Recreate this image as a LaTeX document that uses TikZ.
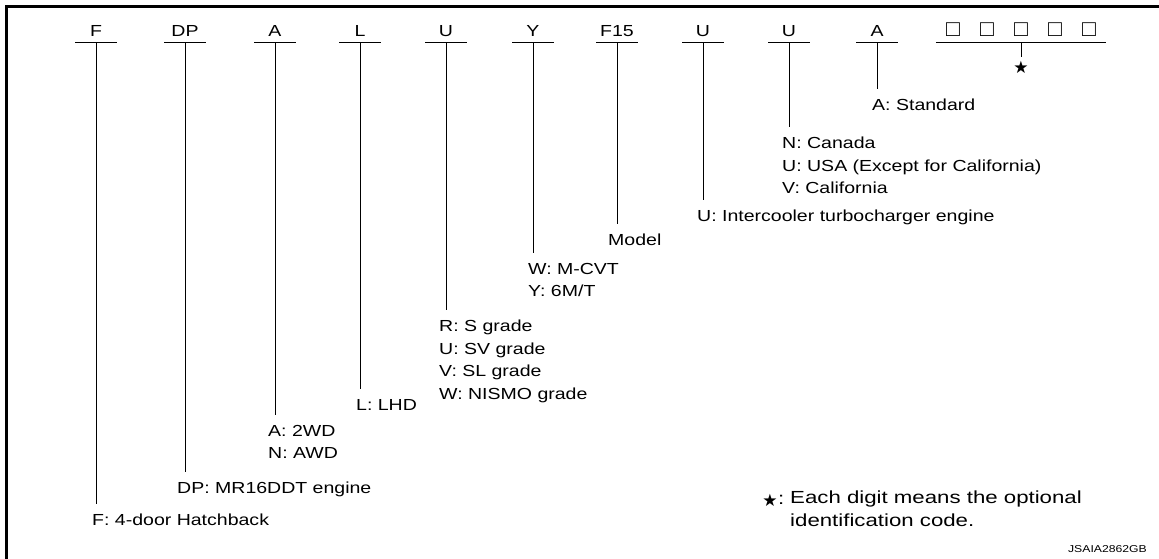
\documentclass[tikz,border=0pt]{standalone}
\usepackage{fontspec}
\setmainfont{Liberation Sans}[FakeStretch=1.22]
\newfontfamily\boxfont{Liberation Sans}
\newfontfamily\notefont{Liberation Sans}[FakeStretch=1.27]
\newfontfamily\symfont{DejaVu Sans}

\begin{document}
\begin{tikzpicture}[
  x=1pt,y=-1pt,
  code/.style={inner sep=0pt,minimum width=41pt,text depth=5pt,anchor=base,font=\fontsize{16}{19}\selectfont,
    append after command={(\tikzlastnode.south west) edge[draw,line width=1.1pt] (\tikzlastnode.south east)}},
  desc/.style={inner sep=0pt,anchor=north west,align=left,font=\fontsize{16}{22.5}\selectfont},
  tick/.style={line width=1pt,shorten >=10pt},
  mark star/.style={inner sep=0pt,font=\symfont\fontsize{17}{17}\selectfont}
]
\useasboundingbox (0,0) rectangle (1159,559);
\draw[line width=3pt] (6.5,559) -- (6.5,6.5) -- (1159,6.5);

% code letters
\node[code] (cF) at (96,37) {F};
\node[code] (cDP) at (185,37) {DP};
\node[code] (cA) at (275,37) {A};
\node[code] (cL) at (360,37) {L};
\node[code] (cU) at (446,37) {U};
\node[code] (cY) at (533,37) {Y};
\node[code] (cF15) at (617,37) {F15};
\node[code] (cEng) at (703,37) {U};
\node[code] (cDest) at (789,37) {U};
\node[code] (cSpec) at (877,37) {A};
\node[code,minimum width=157pt] (cBox) at (1021,37)
  {\boxfont\fontsize{23}{23}\selectfont\makebox[34pt]{□}\makebox[34pt]{□}\makebox[34pt]{□}\makebox[34pt]{□}\makebox[34pt]{□}};
\node[mark star] (star) at (1021,67.5) {★};

% meanings
\node[desc] (dF) at (92,514) {F: 4-door Hatchback};
\node[desc] (dDP) at (177,482) {DP: MR16DDT engine};
\node[desc] (dA) at (268,425) {A: 2WD\\N: AWD};
\node[desc] (dL) at (356,399) {L: LHD};
\node[desc] (dU) at (439,320) {R: S grade\\U: SV grade\\V: SL grade\\W: NISMO grade};
\node[desc] (dY) at (528,263) {W: M-CVT\\Y: 6M/T};
\node[desc] (dF15) at (608,234) {Model};
\node[desc] (dEng) at (697,210) {U: Intercooler turbocharger engine};
\node[desc] (dDest) at (782,137) {N: Canada\\U: USA (Except for California)\\V: California};
\node[desc] (dSpec) at (872,99) {A: Standard};

\draw[tick] (cF.south) -- (cF.south |- dF.north);
\draw[tick] (cDP.south) -- (cDP.south |- dDP.north);
\draw[tick] (cA.south) -- (cA.south |- dA.north);
\draw[tick] (cL.south) -- (cL.south |- dL.north);
\draw[tick] (cU.south) -- (cU.south |- dU.north);
\draw[tick] (cY.south) -- (cY.south |- dY.north);
\draw[tick] (cF15.south) -- (cF15.south |- dF15.north);
\draw[tick] (cEng.south) -- (cEng.south |- dEng.north);
\draw[tick] (cDest.south) -- (cDest.south |- dDest.north);
\draw[tick] (cSpec.south) -- (cSpec.south |- dSpec.north);
\draw[line width=1pt,shorten >=4pt] (cBox.south) -- (star.north);

% note and figure number
\node[mark star] (noteStar) at (770,500) {★};
\node[inner sep=0pt,anchor=base west,font=\notefont\fontsize{17.5}{22.5}\selectfont] (noteColon) at (778,504) {:};
\node[desc,font=\notefont\fontsize{17.5}{22.5}\selectfont] (note) at (790,491) {Each digit means the optional\\identification code.};
\node[inner sep=0pt,anchor=base east,font=\fontsize{10}{12}\selectfont] (fig) at (1147,552) {JSAIA2862GB};
\end{tikzpicture}
\end{document}
